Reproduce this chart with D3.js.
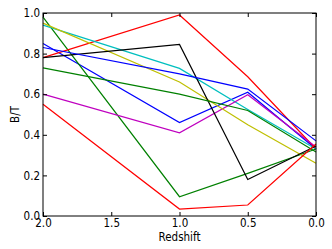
<!DOCTYPE html>
<html><head><meta charset="utf-8">
<script src="https://cdn.jsdelivr.net/npm/d3@7"></script>
<style>body{margin:0;background:#fff}svg{display:block}text{font-family:"Liberation Sans Narrow","DejaVu Sans Condensed",sans-serif}</style>
</head><body><svg id="c" width="332" height="249"></svg>
<script>
const redshifts = [2.0, 1.0, 0.5, 0.0];
const seriesColors = ["#0000ff","#008000","#ff0000","#00bfbf","#bf00bf","#bfbf00","#000000","#0000ff","#008000","#ff0000"];
const s1 = [0.85, 0.46, 0.61, 0.33];
const s2 = [0.98, 0.095, 0.21, 0.33];
const s3 = [0.78, 0.99, 0.686, 0.33];
const s4 = [0.94, 0.727, 0.525, 0.33];
const s5 = [0.60, 0.41, 0.597, 0.34];
const s6 = [0.95, 0.66, 0.45, 0.26];
const s7 = [0.78, 0.845, 0.18, 0.345];
const s8 = [0.83, 0.70, 0.625, 0.37];
const s9 = [0.73, 0.60, 0.52, 0.315];
const s10 = [0.55, 0.034, 0.054, 0.355];
const seriesValues = [s1,s2,s3,s4,s5,s6,s7,s8,s9,s10];
const xTicks = [2.0, 1.5, 1.0, 0.5, 0.0];
const yTicks = [0.0, 0.2, 0.4, 0.6, 0.8, 1.0];

const L=43, R=316, T=13, B=216;
const FONT = '"Liberation Sans Narrow","DejaVu Sans Condensed",sans-serif';
const svg = d3.select("#c");
const x = d3.scaleLinear().domain([2.0, 0.0]).range([L, R]);
const y = d3.scaleLinear().domain([0, 1]).range([B, T]);

const g = svg.append("g");
const line = d3.line().x((d,i)=>x(redshifts[i])).y(d=>y(d));
seriesValues.forEach((vals,k)=>{
  g.append("path").attr("d", line(vals)).attr("fill","none")
   .attr("stroke", seriesColors[k]).attr("stroke-width",1.2);
});

svg.append("rect").attr("x",L).attr("y",T).attr("width",R-L).attr("height",B-T)
  .attr("fill","none").attr("stroke","#000").attr("stroke-width",1);

const fmt = d3.format(".1f");
const axB = d3.axisBottom(x).tickValues(xTicks).tickFormat(fmt).tickSizeInner(-4).tickSizeOuter(0).tickPadding(3);
const axT = d3.axisTop(x).tickValues(xTicks).tickFormat("").tickSizeInner(-4).tickSizeOuter(0);
const axL = d3.axisLeft(y).tickValues(yTicks).tickFormat(fmt).tickSizeInner(-4).tickSizeOuter(0).tickPadding(3);
const axR = d3.axisRight(y).tickValues(yTicks).tickFormat("").tickSizeInner(-4).tickSizeOuter(0);

function style(sel){
  sel.select(".domain").remove();
  sel.selectAll("text").attr("font-size",11.5).attr("fill","#000").attr("font-family",FONT);
  sel.selectAll("line").attr("stroke","#000");
}
svg.append("g").attr("transform",`translate(0,${B})`).call(axB).call(style);
svg.append("g").attr("transform",`translate(0,${T})`).call(axT).call(style);
svg.append("g").attr("transform",`translate(${L},0)`).call(axL).call(style);
svg.append("g").attr("transform",`translate(${R},0)`).call(axR).call(style);

svg.append("text").attr("x",(L+R)/2).attr("y",241).attr("text-anchor","middle")
  .attr("font-family",FONT).attr("font-size",11.5).text("Redshift");
svg.append("text").attr("transform",`translate(19,${(T+B)/2}) rotate(-90)`).attr("text-anchor","middle")
  .attr("font-family",FONT).attr("font-size",11.5).text("B/T");
</script></body></html>
